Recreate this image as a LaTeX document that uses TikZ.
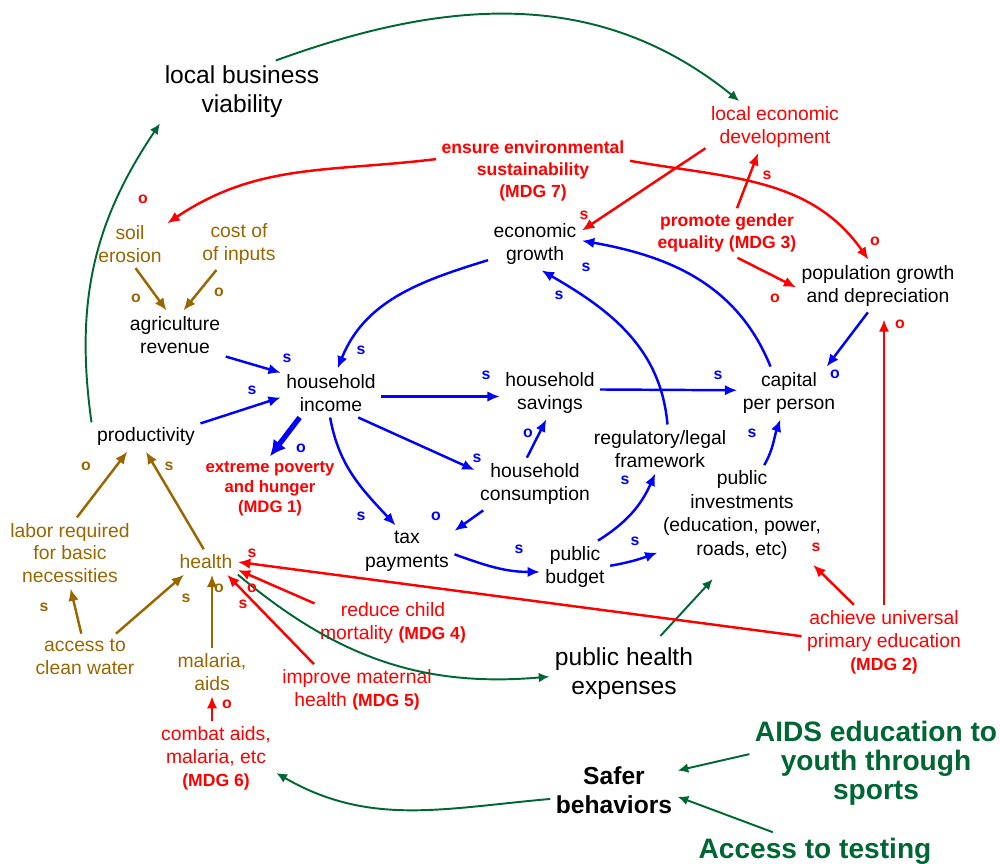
\documentclass[tikz,border=0pt]{standalone}
\usepackage{fontspec}
\setmainfont{Liberation Sans}
\usetikzlibrary{arrows.meta}
\definecolor{cblue}{RGB}{0,0,255}
\definecolor{cred}{RGB}{255,0,0}
\definecolor{cbrown}{RGB}{153,102,0}
\definecolor{cgreen}{RGB}{0,102,51}
\newcommand{\mdg}[1]{{\bfseries\fontsize{10}{13.2}\selectfont #1}}

\begin{document}
\begin{tikzpicture}[
		x=0.02cm, y=-0.02cm,
		% Define styles for nodes
		every node/.style={align=center, inner sep=3pt},
		txt/.style={font=\fontsize{11}{13.4}\selectfont},
		bigtxt/.style={font=\fontsize{14}{16.4}\selectfont},
		brn/.style={font=\fontsize{11}{13}\selectfont, text=cbrown},
		rdtxt/.style={font=\fontsize{11}{13}\selectfont, text=cred},
		rdbold/.style={font=\fontsize{10}{12.5}\selectfont\bfseries, text=cred},
		povtxt/.style={font=\fontsize{9.5}{11.3}\selectfont\bfseries, text=cred},
		grbold/.style={font=\fontsize{16}{16.4}\selectfont\bfseries, text=cgreen},
		pol/.style={font=\fontsize{9}{10}\selectfont\bfseries, inner sep=0pt},
		% Define styles for arrows
		link/.style={line width=1.4pt, -{Latex[length=7pt,width=6pt]}},
		barr/.style={link, cblue},
		rarr/.style={link, cred},
		narr/.style={link, cbrown},
		garr/.style={line width=1.1pt, cgreen, -{Latex[length=6pt,width=5.5pt]}}
	]
	\useasboundingbox (0,0) rectangle (1000,864);

	% Top
	\node[bigtxt] (lbv) at (242,92) {local business\\viability};
	\node[rdtxt] (led) at (775,127) {local economic\\development};
	\node[rdbold] (ens) at (533,171) {ensure environmental\\sustainability\\(MDG 7)};
	\node[brn] (soil) at (130,244) {soil\\erosion};
	\node[brn] (cost) at (239,244) {cost of\\of inputs};
	\node[txt] (agri) at (175,335) {agriculture\\revenue};
	\node[txt] (eco) at (535,244) {economic\\growth};
	\node[rdbold] (gen) at (727,233) {promote gender\\equality (MDG 3)};
	\node[txt] (pop) at (878,286) {population growth\\and depreciation};

	% Middle
	\node[txt] (hinc) at (331,393) {household\\income};
	\node[txt] (hsav) at (550,393) {household\\savings};
	\node[txt] (cap) at (789,393) {capital\\per person};
	\node[txt] (prod) at (146,437) {productivity};
	\node[txt] (reg) at (660,449) {regulatory/legal\\framework};
	\node[txt] (hcon) at (535,484) {household\\consumption};
	\node[povtxt] (pov) at (270,489) {extreme poverty\\and hunger\\(MDG 1)};
	\node[txt] (pinv) at (742,515) {public\\investments\\(education, power,\\roads, etc)};
	\node[txt] (tax) at (407,551) {tax\\payments};
	\node[txt] (pbud) at (575,567) {public\\budget};

	% Bottom
	\node[brn] (labor) at (70,553) {labor required\\for basic\\necessities};
	\node[brn] (health) at (206,562) {health};
	\node[brn] (water) at (85,657) {access to\\clean water};
	\node[brn] (mal) at (212,672) {malaria,\\aids};
	\node[rdtxt] (child) at (393,623) {reduce child\\mortality \mdg{(MDG 4)}};
	\node[rdtxt] (mat) at (357,690) {improve maternal\\health \mdg{(MDG 5)}};
	\node[bigtxt] (phe) at (624,674) {public health\\expenses};
	\node[rdtxt] (prim) at (884,642) {achieve universal\\primary education\\\mdg{(MDG 2)}};
	\node[rdtxt] (comb) at (216,758) {combat aids,\\malaria, etc\\\mdg{(MDG 6)}};
	\node[grbold] (aids) at (876,763) {AIDS education to\\youth through\\sports};
	\node[bigtxt, font=\fontsize{14}{16.4}\selectfont\bfseries] (safe) at (614,790) {Safer\\behaviors};
	\node[grbold] (test) at (815,851) {Access to testing};

	% Green links
	\draw[garr] (prod.165) to[out=98,in=236] (lbv.201);
	\draw[garr] (lbv.43) to[out=20,in=141] (led.144);
	\draw[garr] (health.south east) to[out=-40,in=185] (phe.182);
	\draw[garr, shorten <=5pt, shorten >=11pt] (phe.46) -- (pinv.252);
	\draw[garr] (safe.188) to[out=185,in=-30] (comb.346);
	\draw[garr] (aids.176) -- (safe.17);
	\draw[garr] (test.156) -- (safe.354);

	% Blue links
	\draw[barr] (eco.199) to[out=197,in=68] (hinc.75);
	\draw[barr] (agri.337) -- (hinc.158);
	\draw[barr] (prod.14) -- (hinc.185);
	\draw[barr] (hinc.356) -- (hsav.184);
	\draw[barr] (hsav.4) -- (cap.177);
	\draw[barr] (hinc.318) -- (hcon.167);
	\draw[barr] (hinc.268) to[out=-80,in=133] (tax.114);
	\draw[barr] (hcon.207) -- (tax.23);
	\draw[barr] (hcon.107) -- (hsav.262);
	\draw[barr] (tax.356) to[out=-20,in=180] (pbud.188);
	\draw[barr] (pbud.49) to[out=32,in=246] (reg.259);
	\draw[barr] (pbud.2) to[out=10,in=200] (pinv.204);
	\draw[barr] (pinv.66) to[out=60,in=250] (cap.252);
	\draw[barr] (reg.73) to[out=95,in=330] (eco.284);
	\draw[barr] (cap.125) to[out=112,in=-10] (eco.4);
	\draw[barr] (pop.249) -- (cap.35);
	\draw[barr, line width=3pt, -{Latex[length=9pt,width=9pt]}] (hinc.218) -- (pov.north);

	% Red links
	\draw[rarr] (ens.173) to[out=187,in=34] (soil.29);
	\draw[rarr] (ens.6) to[out=-10,in=125] (pop.110);
	\draw[rarr] (led.197) -- (eco.16);
	\draw[rarr] (gen.68) -- (led.237);
	\draw[rarr] (gen.293) -- (pop.181);
	\draw[rarr, shorten >=4pt] (prim.north) -- (prim.north |- pop.south);
	\draw[rarr] (prim.129) -- (pinv.325);
	\draw[rarr] (prim.176) -- (health.east);
	\draw[rarr] (child.166) -- (health.346);
	\draw[rarr] (mat.149) -- (health.329);
	\draw[rarr] (mal.south |- comb.north) -- (mal.south);

	% Brown links
	\draw[narr] (soil.283) -- (agri.109);
	\draw[narr] (cost.229) -- (agri.71);
	\draw[narr] (labor.79) -- (prod.218);
	\draw[narr] (health.100) -- (prod.south);
	\draw[narr] (water.99) -- (labor.271);
	\draw[narr] (water.37) -- (health.210);
	\draw[narr] (mal.north) -- (mal.north |- health.south);

	% Polarity marks
	\foreach \x/\y/\t [count=\i] in {361/350/s, 287/358/s, 252/390/s, 301/448/o, 486/375/s,
			477/458/s, 361/516/s, 436/516/o, 718/375/s, 835/374/o, 528/433/o, 752/433/s,
			625/480/s, 519/549/s, 635/541/s, 586/267/s, 559/295/s}
		\node[pol, text=cblue] (bp\i) at (\x,\y) {\t};
	\foreach \x/\y/\t [count=\i] in {816/547/s, 767/175/s, 584/215/s, 875/241/o, 775/298/o,
			900/324/o, 143/199/o, 252/553/s, 252/588/o, 243/604/s, 227/704/o}
		\node[pol, text=cred] (rp\i) at (\x,\y) {\t};
	\foreach \x/\y/\t [count=\i] in {219/292/o, 136/298/o, 86/466/o, 169/466/s, 44/607/s,
			186/598/s, 219/588/o}
		\node[pol, text=cbrown] (np\i) at (\x,\y) {\t};
\end{tikzpicture}
\end{document}
